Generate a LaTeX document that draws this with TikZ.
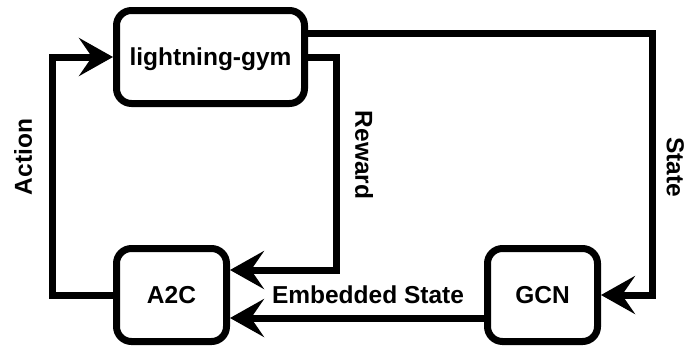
\documentclass[tikz,border=0pt]{standalone}
\usepackage{fontspec}
\setmainfont{Liberation Sans}
\usetikzlibrary{arrows.meta}
\begin{document}
\begin{tikzpicture}[x=1pt,y=-1pt,
  lbl/.style={font=\fontsize{24.5}{28}\selectfont\bfseries, text height=17.5pt, text depth=0pt, inner sep=0pt},
  box/.style={lbl, draw, line width=7pt, rounded corners=15pt, fill=white, minimum height=93pt},
  arr/.style={line width=7pt, -{Stealth[length=34pt,width=38pt,inset=13pt]}}]
\useasboundingbox (0,0) rectangle (687,349);
\node[box, minimum width=188pt] (lg) at (210.5,57) {lightning-gym};
\node[box, minimum width=110pt] (a2c) at (171.5,295) {A2C};
\node[box, minimum width=110pt] (gcn) at (542.5,295) {GCN};
% Action
\draw[arr] (a2c.west) -- ++(-60.5,0) |- (lg.west);
% Reward
\draw[arr] (lg.east) -- ++(28,0) |- ([yshift=25pt]a2c.east);
% State
\draw[arr] ([yshift=24pt]lg.east) -- ++(344.5,0) |- (gcn.east);
% Embedded State
\draw[arr] ([yshift=-23pt]gcn.west) -- ([yshift=-23pt]a2c.east);
% labels
\node[lbl, rotate=90] (lact) at (23,157) {Action};
\node[lbl, rotate=-90] (lrew) at (364,155) {Reward};
\node[lbl, rotate=-90] (lst) at (675.5,167) {State};
\node[lbl] (lemb) at (368,295) {Embedded State};
\end{tikzpicture}
\end{document}
